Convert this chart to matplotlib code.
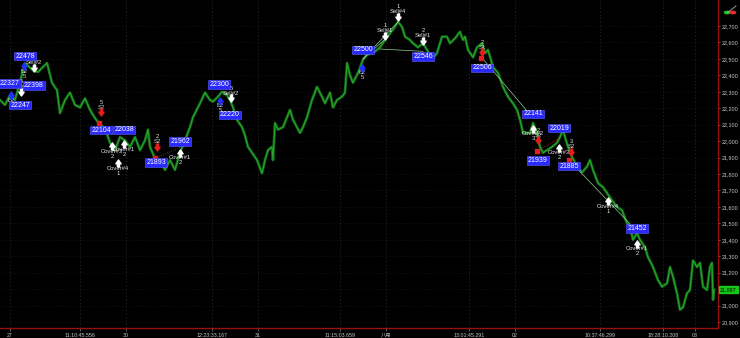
import numpy as np
import matplotlib
matplotlib.use('Agg')
import matplotlib.pyplot as plt
from matplotlib.path import Path

plt.rcParams['font.family'] = ['Liberation Sans', 'Noto Sans CJK SC', 'DejaVu Sans']

# price path (bar position, price)
bars = [0, 5, 10, 15, 20, 25, 33, 38, 42, 47, 52, 57, 60, 65, 70, 75, 80, 85, 90, 95,
        100, 105, 110, 115, 120, 125, 130, 135, 140, 145, 148, 150, 155, 160, 165, 170, 175, 180, 185, 190,
        193, 200, 205, 210, 213, 218, 222, 227, 230, 233, 237, 242, 245, 248, 252, 257, 262, 265, 268, 272,
        273, 275, 278, 283, 287, 290, 293, 297, 300, 303, 307, 312, 317, 322, 325, 330, 333, 337, 342, 345,
        347, 350, 353, 358, 363, 367, 373, 380, 385, 390, 395, 398, 402, 405, 410, 413, 418, 423, 427, 432,
        437, 442, 447, 450, 455, 460, 463, 465, 468, 473, 477, 482, 485, 488, 493, 498, 503, 508, 513, 517,
        520, 523, 530, 533, 537, 540, 543, 547, 552, 557, 560, 563, 565, 568, 572, 577, 582, 587, 590, 593,
        598, 603, 607, 612, 617, 622, 627, 630, 633, 637, 640, 645, 648, 653, 658, 662, 667, 670, 673, 677,
        680, 683, 687, 690, 693, 697, 700, 703, 707, 710, 712, 713, 714]
prices = [22250, 22220, 22280, 22250, 22360, 22475, 22430, 22420, 22445, 22475, 22355, 22310, 22170, 22250, 22295, 22220, 22205, 22260, 22190, 22140,
          22100, 22080, 21990, 21945, 22025, 22005, 21965, 22025, 21945, 22005, 22070, 21965, 21895, 21885, 21825, 21885, 21825, 21930, 22005, 22085,
          22145, 22230, 22295, 22250, 22240, 22270, 22300, 22280, 22250, 22205, 22130, 22085, 22035, 21965, 21930, 21885, 21805, 21885, 21945, 21965,
          21885, 22110, 22070, 22085, 22145, 22190, 22130, 22085, 22050, 22085, 22145, 22250, 22330, 22270, 22230, 22295, 22205, 22250, 22270, 22295,
          22475, 22400, 22355, 22415, 22495, 22525, 22535, 22570, 22615, 22655, 22695, 22725, 22695, 22635, 22615, 22595, 22570, 22595, 22555, 22495,
          22535, 22635, 22635, 22595, 22625, 22665, 22615, 22635, 22555, 22510, 22570, 22595, 22535, 22555, 22450, 22415, 22330, 22270, 22230, 22190,
          22130, 22050, 22050, 22110, 22050, 21965, 21930, 21945, 21965, 21990, 22025, 22070, 22025, 21965, 21905, 21845, 21810, 21845, 21885, 21825,
          21745, 21720, 21685, 21640, 21600, 21580, 21500, 21480, 21400, 21440, 21400, 21355, 21295, 21235, 21155, 21115, 21135, 21235, 21175, 21075,
          20975, 20990, 21075, 21095, 21275, 21235, 21260, 21115, 21095, 21235, 21260, 21035, 21097]
last_price = 21097

# blue price tags
tag_bar = [25, 10, 34, 20, 101, 124, 156, 180, 219, 230, 363, 423, 482, 533, 559, 538, 569, 637]
tag_val = [22478, 22327, 22398, 22247, 22104, 22038, 21893, 21962, 22300, 22220, 22500, 22546, 22506,
           22141, 22019, 21939, 21885, 21452]
tag_dy = [-6.5, -4, 10, 4.5, 6, -5, 4, -6, -7, 10, -9, 5, 10, -4, -10, 9, 6, -3]  # px, + = below

# exits
sell_bar = [21, 34, 231, 385, 398, 423]
sell_px = [22300, 22445, 22260, 22640, 22755, 22610]
sell_name = ['Sell#1', 'Sell#2', 'Sell#2', 'Sell#1', 'Sell#4', 'Sell#1']
sell_qty = ['5', '5', '5', '1', '1', '2']
cover_bar = [112, 124, 118, 180, 533, 559, 608, 637]
cover_px = [21970, 21980, 21865, 21930, 22075, 21960, 21635, 21375]
cover_name = ['Cover#3', 'Cover#1', 'Cover#4', 'Cover#1', 'Cover#2', 'Cover#3', 'Cover#4', 'Cover#1']
cover_qty = ['2', '2', '1', '2', '3', '2', '1', '2']
# entries
buy_bar = [11, 24, 220, 362]
buy_px = [22280, 22455, 22245, 22445]
short_bar = [101, 157, 482, 538, 571]
short_px = [22175, 21965, 22540, 22005, 21935]
short_name = ['S2', 'S2', 'S1', 'S2', 'S2']
short_qty = ['5', '2', '2', '2', '3']
red_dot_bar = [99, 155, 481, 537, 569]
red_dot_px = [22110, 21895, 22505, 21940, 21885]

# x axis
tick_pos = [10, 80, 126, 212, 258, 340, 386, 469, 515, 600, 663, 695]
tick_lab = ['27', '11:10:45.556', '30', '12:23:33.167', '31', '11:15:03.659', '八月',
            '13:01:45.291', '02', '10:37:46.299', '18:28:10.208', '03']
yticks = list(range(20900, 22800, 100))

AX_RED = '#9a1010'

down_arrow = Path([(-0.3, 1), (0.3, 1), (0.3, 0.1), (0.75, 0.1), (0, -1), (-0.75, 0.1), (-0.3, 0.1), (-0.3, 1)])
up_arrow = Path([(x, -y) for x, y in down_arrow.vertices])


def stack_text(ax, x, y, lines, dy, color):
    # lines drawn one under the other starting dy px from the marker
    step = 5.0 if dy > 0 else -5.0
    for i, t in enumerate(lines):
        off = (dy + step * i) * 0.72
        ax.annotate(t, (x, y), xytext=(0, -off), textcoords='offset points',
                    ha='center', va='center', fontsize=4.2, color=color)


fig = plt.figure(figsize=(7.4, 3.38), dpi=100, facecolor='black')
ax = fig.add_axes([0, 10 / 338, 718 / 740, 328 / 338])
ax.set_facecolor('black')

for p in yticks:
    ax.axhline(p, color='#181818', lw=0.5, ls=(0, (2, 3)), zorder=0)
for t in tick_pos:
    ax.axvline(t, color='#2c2c2c', lw=0.5, ls=(0, (2, 3)), zorder=0)

ax.plot(bars, prices, color='#11641a', lw=2.0, zorder=2)
ax.plot(bars, prices, color='#25a825', lw=0.8, zorder=3)

# trade lines
ax.plot([363, 398], [22500, 22725], color='#8fd08f', lw=0.5, zorder=4)
ax.plot([363, 385], [22500, 22620], color='#8fd08f', lw=0.5, zorder=4)
ax.plot([380, 423], [22560, 22546], color='#8fd08f', lw=0.5, zorder=4)
ax.plot([482, 533], [22506, 22141], color='#8fd08f', lw=0.5, zorder=4)
ax.plot([569, 637], [21885, 21452], color='#8fd08f', lw=0.5, zorder=4)
ax.plot([155, 180], [21895, 21962], color='#d02020', lw=0.6, ls=':', zorder=4)
ax.plot([537, 560], [21940, 22019], color='#d02020', lw=0.6, ls=':', zorder=4)

ax.scatter(red_dot_bar, red_dot_px, s=5, color='#e02020', marker='s', zorder=5)
ax.scatter(buy_bar, buy_px, s=26, color='#2030ff', marker=up_arrow, zorder=5)
ax.scatter(short_bar, short_px, s=26, color='#e02020', marker=down_arrow, zorder=5)
ax.scatter(sell_bar, sell_px, s=26, color='white', marker=down_arrow, zorder=5)
ax.scatter(cover_bar, cover_px, s=26, color='white', marker=up_arrow, zorder=5)

for i in range(len(sell_bar)):
    stack_text(ax, sell_bar[i], sell_px[i], [sell_name[i], sell_qty[i]], -5, '#e8e8e8')
for i in range(len(cover_bar)):
    stack_text(ax, cover_bar[i], cover_px[i], [cover_name[i], cover_qty[i]], 5, '#e8e8e8')
for i in range(len(buy_bar)):
    stack_text(ax, buy_bar[i], buy_px[i], ['B2', '5'], 5, '#d8d8d8')
for i in range(len(short_bar)):
    stack_text(ax, short_bar[i], short_px[i], [short_name[i], short_qty[i]], -5, '#d8d8d8')

for x, v, dy in zip(tag_bar, tag_val, tag_dy):
    ax.annotate(str(v), (x, v), xytext=(0, -dy * 0.72), textcoords='offset points',
                ha='center', va='center', fontsize=5, color='white', zorder=6,
                bbox=dict(boxstyle='square,pad=0.12', fc='#2a2aff', ec='#5c5cff', lw=0.4))

ax.set_xlim(0, 718)
ax.set_ylim(20864, 22858)

for s in ['left', 'top']:
    ax.spines[s].set_visible(False)
ax.spines['right'].set_color(AX_RED)
ax.spines['bottom'].set_color(AX_RED)
ax.spines['right'].set_linewidth(1.0)
ax.spines['bottom'].set_linewidth(1.0)

ax.yaxis.tick_right()
ax.set_yticks(yticks)
ax.set_yticklabels(['{:,}'.format(p) for p in yticks])
ax.tick_params(axis='y', colors='#8a8a8a', labelcolor='#c8c8c8', labelsize=3.9, length=1.5, width=0.5, pad=1.5)

ax.set_xticks(tick_pos)
ax.set_xticklabels(tick_lab)
for lab in ax.get_xticklabels():
    if lab.get_text() == '八月':
        lab.set_family(['Noto Sans CJK SC'])
ax.tick_params(axis='x', colors='#8a8a8a', labelcolor='#c8c8c8', labelsize=3.8, length=2, width=0.5, pad=1.5)

# last price marker on the price scale
ax.annotate('{:,}'.format(last_price), (1, last_price), xycoords=('axes fraction', 'data'),
            xytext=(1.5, 0), textcoords='offset points', ha='left', va='center',
            fontsize=3.9, color='black', annotation_clip=False,
            bbox=dict(boxstyle='square,pad=0.15', fc='#18c818', ec='#18c818'))

# small tool icon in the top right corner
fig.lines.append(plt.Line2D([727 / 740, 736 / 740], [1 - 13 / 338, 1 - 6 / 338], color='#b0b0b0', lw=0.6,
                            transform=fig.transFigure))
fig.patches.append(plt.Circle((727 / 740, 1 - 12.5 / 338), 0.0035, color='#20c020', transform=fig.transFigure))
fig.patches.append(plt.Circle((733 / 740, 1 - 12.5 / 338), 0.0035, color='#e03030', transform=fig.transFigure))

fig.savefig('out.png', dpi=100, facecolor='black')
